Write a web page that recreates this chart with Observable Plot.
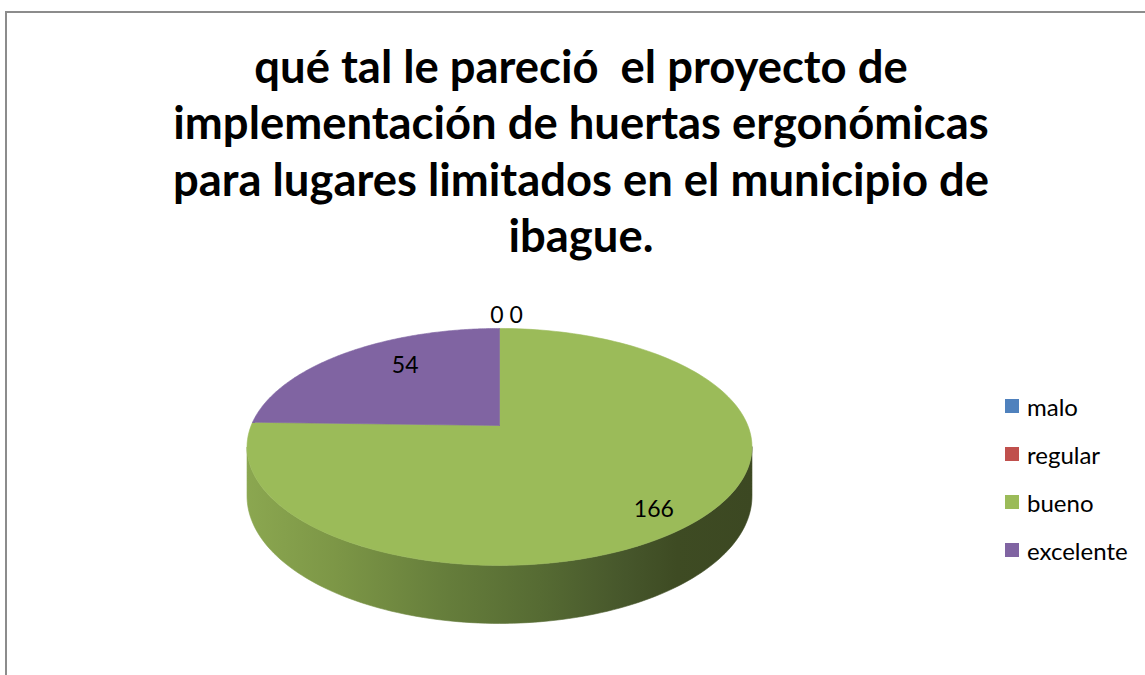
<!DOCTYPE html>
<html>
<head>
<meta charset="utf-8">
<script src="https://cdn.jsdelivr.net/npm/d3@7"></script>
<script src="https://cdn.jsdelivr.net/npm/@observablehq/plot@0.6"></script>
<style>
  html, body { margin: 0; padding: 0; background: #fff; overflow: hidden; width: 1145px; height: 675px; }
  #frame { position: absolute; left: 5px; top: 11px; width: 2000px; height: 2000px;
           border-top: 2px solid #8c8c8c; border-left: 2px solid #8c8c8c; }
  #title { position: absolute; left: 0; top: 38px; width: 1162px; text-align: center;
           font-family: Lato, "Open Sans", sans-serif; font-weight: bold; font-size: 45.4px;
           line-height: 56.3px; color: #000; }
  #chart { position: absolute; left: 0; top: 0; }
  #legend { position: absolute; left: 1005px; top: 382px; font-family: Lato, sans-serif;
            font-size: 24px; color: #000; }
  .row { display: flex; align-items: center; height: 48px; }
  .sw { width: 14px; height: 14px; margin-right: 8px; }
</style>
</head>
<body>
<div id="frame"></div>
<div id="title">qué tal le pareció&nbsp; el proyecto de<br>implementación de huertas ergonómicas<br>para lugares limitados en el municipio de<br>ibague.</div>
<div id="chart"></div>
<div id="legend"></div>
<script>
// ---- data ----
const categories = ["malo", "regular", "bueno", "excelente"];
const values = [0, 0, 166, 54];
const colors = ["#4F81BD", "#C0504D", "#9BBB59", "#8064A2"];

// ---- 3D pie geometry (unit space) ----
const persp = 0.181;      // perspective factor (far edge smaller)
const depth = 0.4145;     // side thickness in unit-y
const labelStretch = 1.22;
function proj(u, v, r = 1, drop = 0) {
  const w = 1 + persp * v * r;
  return {x: (u * r) / w, y: (v * r - drop) / w};
}
const total = d3.sum(values);
let acc = 0;
const slices = categories.map((c, i) => {
  const a0 = acc / total * 2 * Math.PI;
  acc += values[i];
  const a1 = acc / total * 2 * Math.PI;
  return {category: c, value: values[i], color: colors[i], a0, a1};
});

function arcPts(a0, a1, n, drop = 0) {
  const pts = [];
  for (let k = 0; k <= n; k++) {
    const a = a0 + (a1 - a0) * k / n;
    pts.push(proj(Math.sin(a), Math.cos(a), 1, drop));
  }
  return pts;
}

// visible front side: between the two silhouette angles
const aR = Math.acos(-persp), aL = 2 * Math.PI - Math.acos(-persp);
const sideMarks = [];
slices.filter(s => s.value > 0).forEach(s => {
  const lo = Math.max(s.a0, aR), hi = Math.min(s.a1, aL);
  if (hi > lo) {
    const top = arcPts(lo, hi, 120, 0);
    const bot = arcPts(hi, lo, 120, depth);
    sideMarks.push(Plot.line([...top, ...bot, top[0]], {
      x: "x", y: "y", fill: "url(#sideGrad)", stroke: "url(#sideGrad)", strokeWidth: 0.6
    }));
  }
});

const topMarks = slices.filter(s => s.value > 0).map(s => {
  const pts = [proj(0, 0), ...arcPts(s.a0, s.a1, 160), proj(0, 0)];
  return Plot.line(pts, {x: "x", y: "y", fill: s.color, stroke: s.color, strokeWidth: 0.6});
});

// labels
const labelData = [];
slices.filter(s => s.value > 0).forEach(s => {
  const m = (s.a0 + s.a1) / 2;
  const r = (s.a1 - s.a0) > Math.PI ? 0.79 : 0.6;
  const u = Math.sin(m) * r, v = Math.cos(m) * r;
  const w = 1 + persp * v;
  labelData.push({x: u / w, y: labelStretch * v / w, text: String(s.value), anchor: "middle"});
});
const zeros = slices.filter(s => s.value === 0);
if (zeros.length) {
  const m = zeros[0].a0;
  const p = proj(Math.sin(m), Math.cos(m));
  labelData.push({x: p.x, y: p.y, text: zeros.map(z => z.value).join(" "), anchor: "bottom"});
}

const chart = Plot.plot({
  width: 1145, height: 675,
  margin: 0,
  x: {domain: [-1, 1], range: [250.7, 747.3], axis: null},
  y: {domain: [-1, 1], range: [539.6, 310.4], axis: null},
  style: {background: "transparent", overflow: "visible"},
  marks: [
    ...sideMarks,
    ...topMarks,
    Plot.text(labelData.filter(d => d.anchor === "middle"), {
      x: "x", y: "y", text: "text", fontSize: 23, fill: "#000", dy: -4, dx: 2,
      fontFamily: "Lato, sans-serif"
    }),
    Plot.text(labelData.filter(d => d.anchor === "bottom"), {
      x: "x", y: "y", text: "text", fontSize: 23, fill: "#000", lineAnchor: "bottom", dy: -5, dx: 7,
      fontFamily: "Lato, sans-serif"
    })
  ]
});

// gradient for the side
const xs = chart.scale("x");
const x0 = xs.apply(-1.02), x1 = xs.apply(1.02);
const ns = "http://www.w3.org/2000/svg";
const defs = document.createElementNS(ns, "defs");
const grad = document.createElementNS(ns, "linearGradient");
grad.setAttribute("id", "sideGrad");
grad.setAttribute("gradientUnits", "userSpaceOnUse");
grad.setAttribute("x1", x0); grad.setAttribute("x2", x1);
grad.setAttribute("y1", 0); grad.setAttribute("y2", 0);
[[0, "#8ba750"], [0.18, "#7c9646"], [0.4, "#657d3b"], [0.58, "#566b33"], [0.75, "#46562b"], [0.85, "#3e4b23"], [1, "#3c4822"]]
  .forEach(([o, c]) => {
    const st = document.createElementNS(ns, "stop");
    st.setAttribute("offset", o); st.setAttribute("stop-color", c);
    grad.appendChild(st);
  });
defs.appendChild(grad);
chart.insertBefore(defs, chart.firstChild);
document.getElementById("chart").appendChild(chart);

// legend
const lg = document.getElementById("legend");
categories.forEach((c, i) => {
  const row = document.createElement("div"); row.className = "row";
  const sw = document.createElement("div"); sw.className = "sw"; sw.style.background = colors[i];
  const t = document.createElement("span"); t.textContent = c;
  row.appendChild(sw); row.appendChild(t); lg.appendChild(row);
});
</script>
</body>
</html>
